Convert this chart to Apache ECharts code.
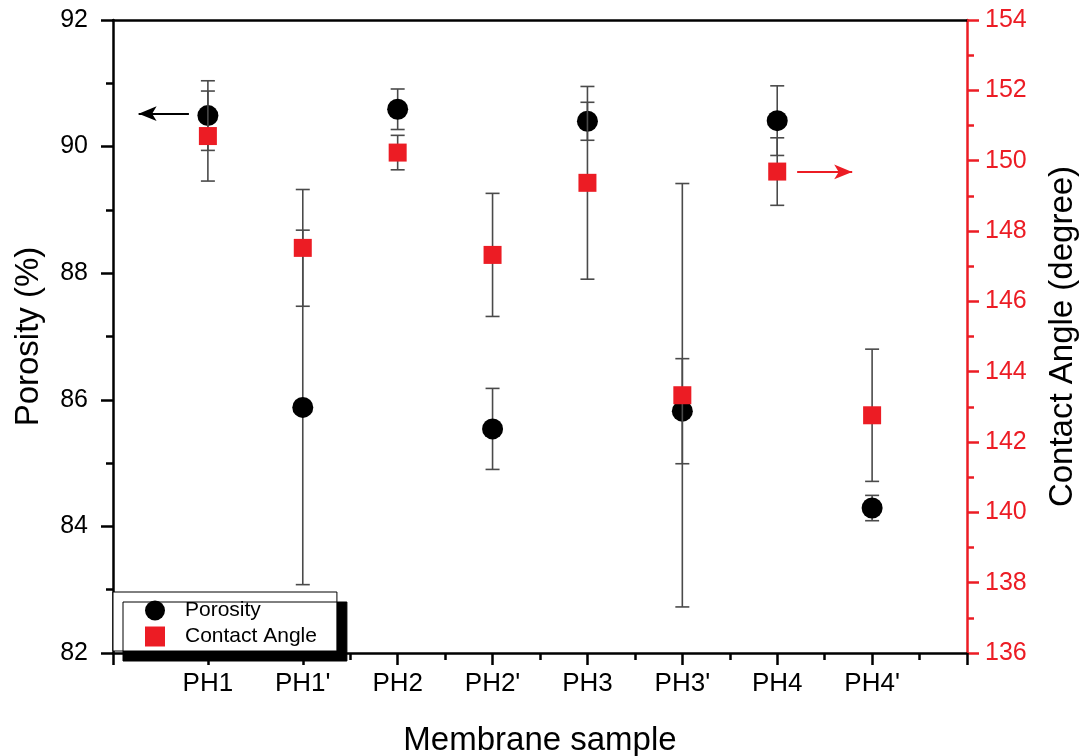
<!DOCTYPE html>
<html>
<head>
<meta charset="utf-8">
<script src="https://cdn.jsdelivr.net/npm/echarts@6/dist/echarts.min.js"></script>
<style>
html,body{margin:0;padding:0;background:#fff;}
#chart{width:1090px;height:756px;}
</style>
</head>
<body>
<div id="chart"></div>
<script>
// ---- data ----
var categories = ['PH1', "PH1'", 'PH2', "PH2'", 'PH3', "PH3'", 'PH4', "PH4'"];
var porosity = [90.49, 85.88, 90.59, 85.54, 90.40, 85.82, 90.41, 84.29];
var porosityErr = [0.55, 2.80, 0.32, 0.64, 0.30, 0.83, 0.55, 0.20];
var contactAngle = [150.70, 147.52, 150.23, 147.32, 149.37, 143.33, 149.69, 142.76];
var contactErr = [1.28, 1.66, 0.49, 1.75, 2.74, 6.02, 0.96, 1.88];
var porosityTicks = [82, 84, 86, 88, 90, 92];
var angleTicks = [136, 138, 140, 142, 144, 146, 148, 150, 152, 154];
// annotation arrows (data coordinates): [x from, x to, y]
var porosityArrow = [0.80, 0.27, 90.52];
var angleArrow = [7.21, 7.79, 149.68];

var RED = '#ec1c24';
var FONT = "'Liberation Sans', Arial, sans-serif";

var porData = categories.map(function (c, i) { return [i + 1, porosity[i], porosityErr[i]]; });
var angData = categories.map(function (c, i) { return [i + 1, contactAngle[i], contactErr[i]]; });

function errRender(params, api) {
  var x = api.value(0), y = api.value(1), e = api.value(2);
  var top = api.coord([x, y + e]);
  var bot = api.coord([x, y - e]);
  var hw = 7;
  var st = { stroke: '#4a4a4a', lineWidth: 1.6 };
  return {
    type: 'group',
    children: [
      { type: 'line', shape: { x1: top[0], y1: top[1], x2: bot[0], y2: bot[1] }, style: st },
      { type: 'line', shape: { x1: top[0] - hw, y1: top[1], x2: top[0] + hw, y2: top[1] }, style: st },
      { type: 'line', shape: { x1: bot[0] - hw, y1: bot[1], x2: bot[0] + hw, y2: bot[1] }, style: st }
    ]
  };
}

var chart = echarts.init(document.getElementById('chart'), null, { renderer: 'canvas' });
chart.setOption({
  animation: false,
  backgroundColor: '#fff',
  textStyle: { fontFamily: FONT },
  grid: { left: 113, right: 123, top: 20, bottom: 103, containLabel: false, outerBoundsMode: 'none' },
  legend: {
    orient: 'vertical',
    left: 113, top: 592,
    itemWidth: 20, itemHeight: 20, itemGap: 5,
    padding: [8, 20, 4, 32],
    backgroundColor: '#fff',
    borderColor: '#000', borderWidth: 1,
    shadowColor: '#000', shadowBlur: 0, shadowOffsetX: 10, shadowOffsetY: 10,
    textStyle: { fontSize: 21, color: '#000', fontFamily: FONT, padding: [0, 0, 0, 15] },
    data: ['Porosity', 'Contact Angle']
  },
  xAxis: [{
    type: 'value', min: 0, max: 9, interval: 1,
    name: 'Membrane sample', nameLocation: 'middle', nameGap: 71,
    nameTextStyle: { fontSize: 33, color: '#000', fontFamily: FONT },
    axisLine: { onZero: false, lineStyle: { color: '#000', width: 2.5 } },
    axisTick: { show: true, inside: false, length: 12, lineStyle: { color: '#000', width: 2.5 } },
    minorTick: { show: true, splitNumber: 2, length: 7, lineStyle: { color: '#000', width: 2.5 } },
    splitLine: { show: false },
    axisLabel: {
      fontSize: 26, color: '#000', margin: 18, fontFamily: FONT,
      formatter: function (v) { return categories[v - 1] || ''; }
    }
  }, {
    type: 'value', min: 0, max: 9, position: 'top',
    axisLine: { show: true, onZero: false, lineStyle: { color: '#000', width: 2.5 } },
    axisTick: { show: false }, axisLabel: { show: false }, splitLine: { show: false }
  }],
  yAxis: [{
    type: 'value', min: porosityTicks[0], max: porosityTicks[porosityTicks.length - 1], interval: 2,
    position: 'left',
    name: 'Porosity (%)', nameLocation: 'middle', nameGap: 68,
    nameTextStyle: { fontSize: 33, color: '#000', fontFamily: FONT },
    axisLine: { show: true, onZero: false, lineStyle: { color: '#000', width: 2.5 } },
    axisTick: { show: true, length: 12, lineStyle: { color: '#000', width: 2.5 } },
    minorTick: { show: true, splitNumber: 2, length: 7, lineStyle: { color: '#000', width: 2.5 } },
    splitLine: { show: false },
    axisLabel: { fontSize: 25, color: '#000', margin: 25, fontFamily: FONT }
  }, {
    type: 'value', min: angleTicks[0], max: angleTicks[angleTicks.length - 1], interval: 2,
    position: 'right',
    name: 'Contact Angle (degree)', nameLocation: 'middle', nameGap: 79,
    nameTextStyle: { fontSize: 33, color: '#000', fontFamily: FONT },
    axisLine: { show: true, onZero: false, lineStyle: { color: RED, width: 2.5 } },
    axisTick: { show: true, length: 12, lineStyle: { color: RED, width: 2.5 } },
    minorTick: { show: true, splitNumber: 2, length: 7, lineStyle: { color: RED, width: 2.5 } },
    splitLine: { show: false },
    axisLabel: { fontSize: 25, color: RED, margin: 18, fontFamily: FONT }
  }],
  series: [{
    type: 'custom', name: 'porErr', xAxisIndex: 0, yAxisIndex: 0,
    renderItem: errRender, data: porData, encode: { x: 0, y: 1 }, z: 2, silent: true
  }, {
    type: 'scatter', name: 'Porosity', xAxisIndex: 0, yAxisIndex: 0,
    data: porData, symbol: 'circle', symbolSize: 21,
    itemStyle: { color: '#000', opacity: 1 }, z: 3, silent: true,
    markLine: {
      silent: true, animation: false,
      symbol: ['none', 'arrow'], symbolSize: [11, 18],
      label: { show: false },
      lineStyle: { color: '#000', width: 2, type: 'solid' },
      data: [[{ coord: [porosityArrow[0], porosityArrow[2]] }, { coord: [porosityArrow[1], porosityArrow[2]] }]]
    }
  }, {
    type: 'custom', name: 'angErr', xAxisIndex: 0, yAxisIndex: 1,
    renderItem: errRender, data: angData, encode: { x: 0, y: 1 }, z: 4, silent: true
  }, {
    type: 'scatter', name: 'Contact Angle', xAxisIndex: 0, yAxisIndex: 1,
    data: angData, symbol: 'rect', symbolSize: 18,
    itemStyle: { color: RED, opacity: 1 }, z: 5, silent: true,
    markLine: {
      silent: true, animation: false,
      symbol: ['none', 'arrow'], symbolSize: [11, 18],
      label: { show: false },
      lineStyle: { color: RED, width: 2, type: 'solid' },
      data: [[{ coord: [angleArrow[0], angleArrow[2]] }, { coord: [angleArrow[1], angleArrow[2]] }]]
    }
  }]
});
</script>
</body>
</html>
